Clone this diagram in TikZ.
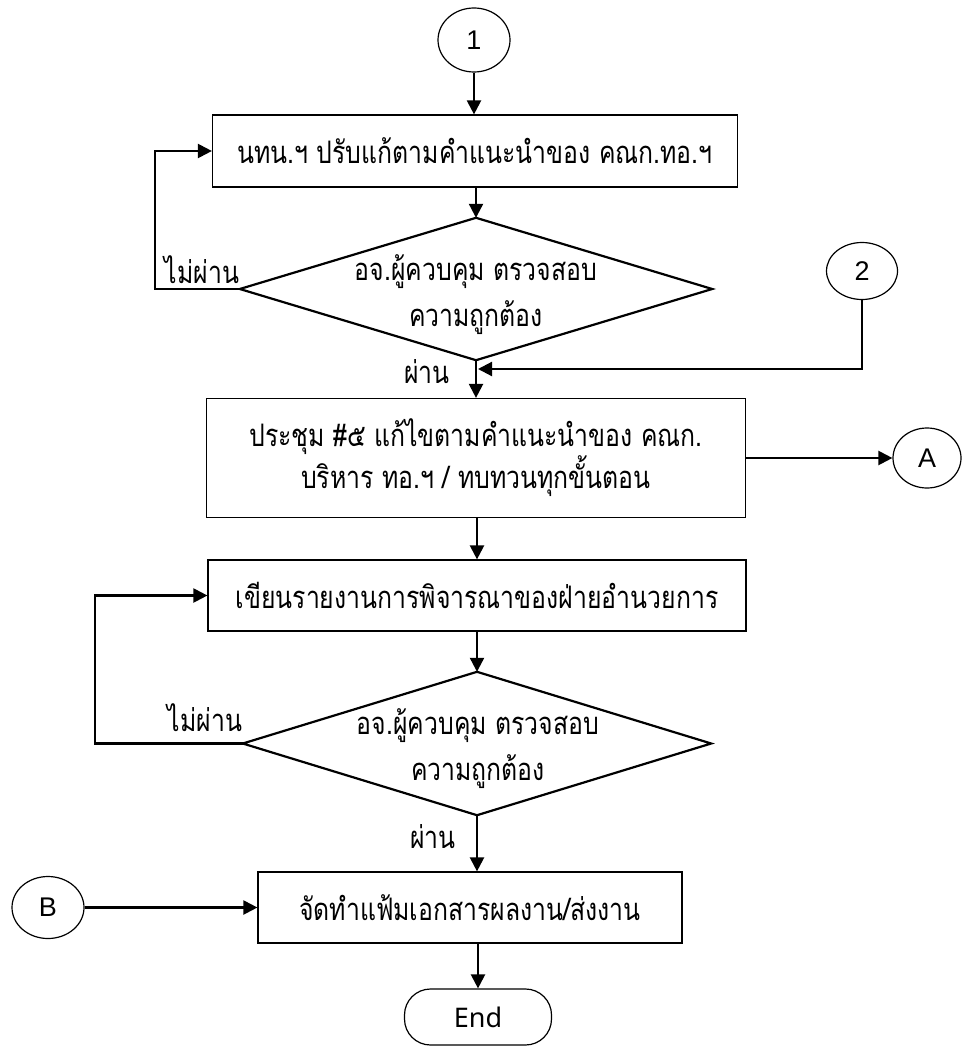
\documentclass[tikz,border=0pt]{standalone}
\usepackage{fontspec}
\newfontfamily\thai[Script=Thai,FakeStretch=0.8]{Loma}
\newfontfamily\lat{Liberation Sans}
\newfontfamily\noto{Noto Sans}
\usetikzlibrary{arrows.meta,shapes.geometric}
\tikzset{
  thaitext/.style={font=\thai\fontsize{31}{42}\selectfont},
  proc/.style={draw, line width=1.2pt, inner sep=0pt, align=center, thaitext},
  decision/.style={inner sep=0pt},
  dtext/.style={inner sep=0pt, align=center, font=\thai\fontsize{31}{46}\selectfont},
  dedge/.style={line width=2.2pt, line join=miter},
  conn/.style={draw, ellipse, line width=1.2pt, inner sep=0pt, font=\lat\fontsize{27}{30}\selectfont},
  term/.style={draw, rectangle, rounded corners=26pt, line width=1.2pt, inner sep=0pt, font=\noto\fontsize{27}{30}\selectfont},
  arr/.style={line width=2.2pt, -{Triangle[length=14pt,width=14pt]}},
  lbl/.style={thaitext, inner sep=0pt}
}
\begin{document}
\begin{tikzpicture}[x=1pt,y=-1pt]
\useasboundingbox[fill=white] (0,0) rectangle (964,1046);
% nodes
\node[conn, minimum width=72pt, minimum height=64pt] (c1) at (474,40) {1};
\node[proc, minimum width=525pt, minimum height=72pt] (box1) at (475,151) {นทน.ฯ ปรับแก้ตามคำแนะนำของ คณก.ทอ.ฯ};
\node[decision, minimum width=472pt, minimum height=142pt] (dia1) at (476,289) {};
\draw[dedge] (dia1.north) -- (dia1.east) -- (dia1.south) -- (dia1.west) -- cycle;
\node[dtext] (t1) at (476,295) {อจ.ผู้ควบคุม ตรวจสอบ\\ความถูกต้อง};
\node[conn, minimum width=71pt, minimum height=57pt] (c2) at (862,271) {2};
\node[proc, minimum width=539pt, minimum height=119pt] (box2) at (476,458) {ประชุม \#๕ แก้ไขตามคำแนะนำของ คณก.\\บริหาร ทอ.ฯ / ทบทวนทุกขั้นตอน};
\node[conn, minimum width=68pt, minimum height=60pt] (cA) at (927,458) {A};
\node[proc, minimum width=538pt, minimum height=71pt] (box3) at (477,595.5) {เขียนรายงานการพิจารณาของฝ่ายอำนวยการ};
\node[decision, minimum width=468pt, minimum height=143pt] (dia2) at (477,743.5) {};
\draw[dedge] (dia2.north) -- (dia2.east) -- (dia2.south) -- (dia2.west) -- cycle;
\node[dtext] (t2) at (478,749) {อจ.ผู้ควบคุม ตรวจสอบ\\ความถูกต้อง};
\node[proc, minimum width=424pt, minimum height=71pt] (box4) at (470,907.5) {จัดทำแฟ้มเอกสารผลงาน/ส่งงาน};
\node[conn, minimum width=72pt, minimum height=62pt] (cB) at (48,907.5) {B};
\node[term, minimum width=147pt, minimum height=56pt] (end) at (478,1017) {End};
% labels
\node[lbl] (l1) at (202,270) {ไม่ผ่าน};
\node[lbl] (l2) at (427,372) {ผ่าน};
\node[lbl] (l3) at (205,718) {ไม่ผ่าน};
\node[lbl] (l4) at (433,837) {ผ่าน};
\coordinate (m1) at (478,369);
% connectors
\draw[arr] (c1) -- (c1 |- box1.north);
\draw[arr] (box1.south -| dia1.north) -- (dia1.north);
\draw[arr] (dia1.west) -- ++(-85,0) |- (box1.west);
\draw[arr] (dia1.south) -- (box2.north);
\draw[arr] (c2.south) |- (m1);
\draw[arr] (box2.east) -- (cA.west);
\draw[arr] (box2.south -| box3.north) -- (box3.north);
\draw[arr] (box3.south) -- (dia2.north);
\draw[arr] (dia2.west) -- ++(-148,0) |- (box3.west);
\draw[arr] (dia2.south) -- (dia2.south |- box4.north);
\draw[arr] (cB.east) -- (cB.east -| box4.west);
\draw[arr] (end |- box4.south) -- (end.north);
\end{tikzpicture}
\end{document}
